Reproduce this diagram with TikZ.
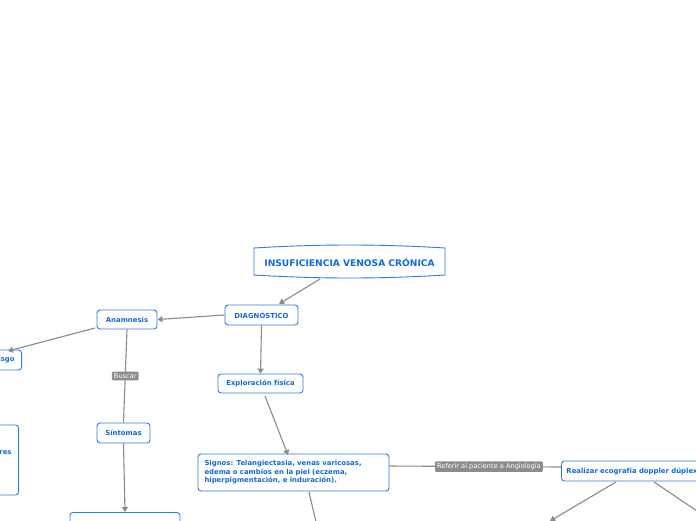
\documentclass[tikz,border=0pt]{standalone}
\usepackage{fontspec}
\setmainfont{DejaVu Sans}
\usetikzlibrary{arrows.meta}
\definecolor{nodeblue}{HTML}{2B7DE0}
\definecolor{txtblue}{HTML}{1469D6}
\definecolor{linegray}{HTML}{8A8A8A}
\definecolor{labelgray}{HTML}{8C8C8C}
\tikzset{
  box/.style={draw=nodeblue, line width=0.9pt, rounded corners=3pt, fill=white,
    text=txtblue, font=\bfseries\fontsize{6.9}{8.4}\selectfont, inner sep=0pt, align=center},
  lbl/.style={fill=labelgray, text=white, font=\fontsize{6.6}{7.5}\selectfont, inner sep=2pt, rounded corners=1pt},
  conn/.style={draw=linegray, line width=1.1pt},
  arr/.style={conn, -{Triangle[width=6pt,length=5pt]}}
}
\begin{document}
\begin{tikzpicture}[x=1pt,y=-1pt]
\useasboundingbox (0,0) rectangle (696,520);
\fill[white] (0,0) rectangle (696,520);
% title
\draw[draw=nodeblue, line width=0.9pt, fill=white] (254,248) .. controls (320,244) and (380,244) .. (445,248) -- (445,275) .. controls (380,279) and (320,279) .. (254,275) -- cycle;
\node[text=txtblue, font=\bfseries\fontsize{9.1}{10}\selectfont] (title) at (349.5,262) {INSUFICIENCIA VENOSA CRÓNICA};
\coordinate (titleb) at (320,279);
\node[box, minimum width=73pt, minimum height=20pt] (diag) at (261.5,315) {DIAGNÓSTICO};
\node[box, minimum width=60pt, minimum height=19pt] (anam) at (127,319.5) {Anamnesis};
\node[box, minimum width=90pt, minimum height=20pt, anchor=east, align=right, text width=76pt] (riesgo) at (22,360) {Factores de riesgo};
\node[box, minimum width=120pt, minimum height=70pt, anchor=east, align=right, text width=106pt] (left2) at (19,460) {Antecedentes familiares\\\mbox{}\\\mbox{}};
\node[box, minimum width=53pt, minimum height=20pt] (sint) at (123.5,433) {Síntomas};
\node[box, minimum width=110pt, minimum height=20pt, anchor=north] (bottomL) at (125,512) {};
\node[box, minimum width=85pt, minimum height=19pt] (expl) at (260.5,383.5) {Exploración física};
\node[box, minimum width=191pt, minimum height=37pt, align=left, text width=178pt] (signos) at (293.5,472.5) {Signos: Telangiectasia, venas varicosas,\\edema o cambios en la piel (eczema,\\hiperpigmentación, e induración).};
\node[box, minimum width=150pt, minimum height=20pt, anchor=west, align=left, text width=140pt] (eco) at (561,471) {Realizar ecografía doppler dúplex};
% connectors
\draw[arr] (titleb) -- (279,304);
\draw[arr] (diag.west) -- (anam.east);
\draw[arr] (diag.south) -- (expl.north);
\draw[arr] (95,328) -- (8,351);
\draw[conn] (anam.south) -- (sint.north) node[lbl, pos=0.5] (buscar) {Buscar};
\draw[arr] (sint.south) -- (bottomL.north);
\draw[arr] (265,396) -- (288,455);
\coordinate (sigout) at (316,522);
\draw[conn] (309,492) -- (sigout);
\draw[conn] ([yshift=6.5pt]signos.east) -- ([yshift=4pt]eco.west) node[lbl, pos=0.58] (referir) {Referir al paciente a Angiología};
\coordinate (ecoL) at (550,521);
\coordinate (ecoR) at (700,513);
\draw[arr] (616,482) -- (ecoL);
\draw[conn] (654,482) -- (ecoR);
\end{tikzpicture}
\end{document}
